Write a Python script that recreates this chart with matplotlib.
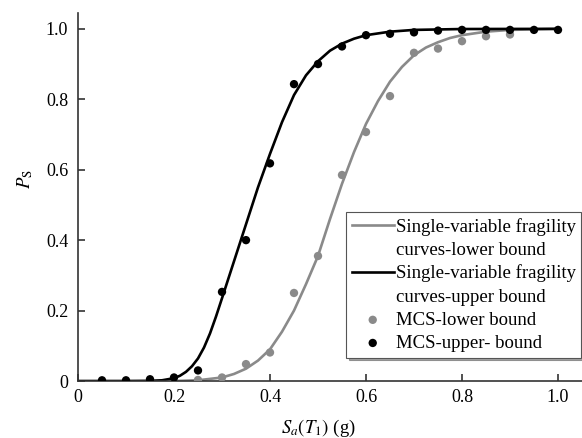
import numpy as np
import matplotlib
matplotlib.use('Agg')
import matplotlib.pyplot as plt
from matplotlib.lines import Line2D

plt.rcParams['font.family'] = ['Liberation Serif', 'DejaVu Serif']
plt.rcParams['mathtext.fontset'] = 'stix'

# fitted fragility curves
curve_x_upper = [0.0, 0.1, 0.15, 0.175, 0.2, 0.2125, 0.225, 0.2375, 0.25, 0.2625, 0.275, 0.2875,
                 0.3, 0.325, 0.35, 0.375, 0.4, 0.425, 0.45, 0.475, 0.5, 0.525, 0.55, 0.575,
                 0.6, 0.65, 0.7, 0.8, 1.0]
curve_y_upper = [0.0, 0.0, 0.0005, 0.002, 0.008, 0.015, 0.026, 0.042, 0.064, 0.095, 0.135, 0.183,
                 0.235, 0.34, 0.445, 0.55, 0.645, 0.735, 0.812, 0.868, 0.908, 0.938, 0.958, 0.972,
                 0.982, 0.992, 0.997, 0.9995, 1.0]

curve_x_lower = [0.2, 0.25, 0.3, 0.325, 0.35, 0.375, 0.4, 0.425, 0.45, 0.475, 0.5, 0.525, 0.55,
                 0.575, 0.6, 0.625, 0.65, 0.675, 0.7, 0.725, 0.75, 0.775, 0.8, 0.85, 0.9, 1.0]
curve_y_lower = [0.0, 0.002, 0.01, 0.02, 0.035, 0.058, 0.09, 0.14, 0.2, 0.275, 0.355, 0.46, 0.56,
                 0.65, 0.73, 0.795, 0.85, 0.892, 0.925, 0.947, 0.962, 0.974, 0.982, 0.992, 0.997, 1.0]

# Monte Carlo points
mcs_x_upper = [0.05, 0.1, 0.15, 0.2, 0.25, 0.3, 0.35, 0.4, 0.45, 0.5, 0.55, 0.6, 0.65, 0.7,
               0.75, 0.8, 0.85, 0.9, 0.95, 1.0]
mcs_y_upper = [0.002, 0.002, 0.005, 0.01, 0.03, 0.253, 0.4, 0.618, 0.843, 0.9, 0.95, 0.982, 0.986, 0.99,
               0.995, 0.997, 0.997, 0.997, 0.997, 0.997]

mcs_x_lower = [0.25, 0.3, 0.35, 0.4, 0.45, 0.5, 0.55, 0.6, 0.65, 0.7, 0.75, 0.8, 0.85, 0.9]
mcs_y_lower = [0.003, 0.01, 0.048, 0.081, 0.25, 0.355, 0.585, 0.707, 0.809, 0.932, 0.944, 0.965, 0.979, 0.984]

ticks = [0, 0.2, 0.4, 0.6, 0.8, 1.0]
tick_labels = ['0', '0.2', '0.4', '0.6', '0.8', '1.0']

legend_labels = ['Single-variable fragility', 'curves-lower bound',
                 'Single-variable fragility', 'curves-upper bound',
                 'MCS-lower bound', 'MCS-upper- bound']

gray = '#8a8a8a'
axcol = '#333333'

fig = plt.figure(figsize=(5.82, 4.38), dpi=100)
ax = fig.add_axes([78/582, 57/438, 504/582, 368/438])

l1, = ax.plot(curve_x_lower, curve_y_lower, color=gray, lw=1.9, zorder=2)
l2, = ax.plot(curve_x_upper, curve_y_upper, color='black', lw=1.9, zorder=2)
p1 = ax.scatter(mcs_x_lower, mcs_y_lower, s=36, color=gray, edgecolors='none', zorder=3)
p2 = ax.scatter(mcs_x_upper, mcs_y_upper, s=36, color='black', edgecolors='none', zorder=3)

ax.set_xlim(0, 1.05)
ax.set_ylim(0, 1.045)
ax.set_xticks(ticks)
ax.set_xticklabels(tick_labels)
ax.set_yticks(ticks)
ax.set_yticklabels(tick_labels)

for s in ['top', 'right']:
    ax.spines[s].set_visible(False)
for s in ['left', 'bottom']:
    ax.spines[s].set_color(axcol)
    ax.spines[s].set_linewidth(1.2)
ax.tick_params(direction='in', length=5, width=1.2, color=axcol, labelsize=13)
ax.tick_params(axis='y', pad=7)
ax.tick_params(axis='x', pad=6)

ax.set_xlabel(r'$S_a(T_1)$ (g)', fontsize=13.5)
ax.xaxis.set_label_coords(240/504, -0.1)
ax.set_ylabel(r'$P_\mathrm{S}$', fontsize=13.5)
ax.yaxis.set_label_coords(-0.085, 0.55)

blank = Line2D([], [], color='none')
handles = [l1, blank, l2, blank, p1, p2]
leg = ax.legend(handles, legend_labels, loc='upper left', bbox_to_anchor=(346/582, 1 - 212/438),
                bbox_transform=fig.transFigure, borderaxespad=0, fontsize=13.5,
                handlelength=2.25, handletextpad=0.1, borderpad=0.3, labelspacing=0.32,
                fancybox=False, shadow=True, framealpha=1, edgecolor='#555555')
leg.get_frame().set_linewidth(0.8)

fig.savefig('out.png', dpi=100)
